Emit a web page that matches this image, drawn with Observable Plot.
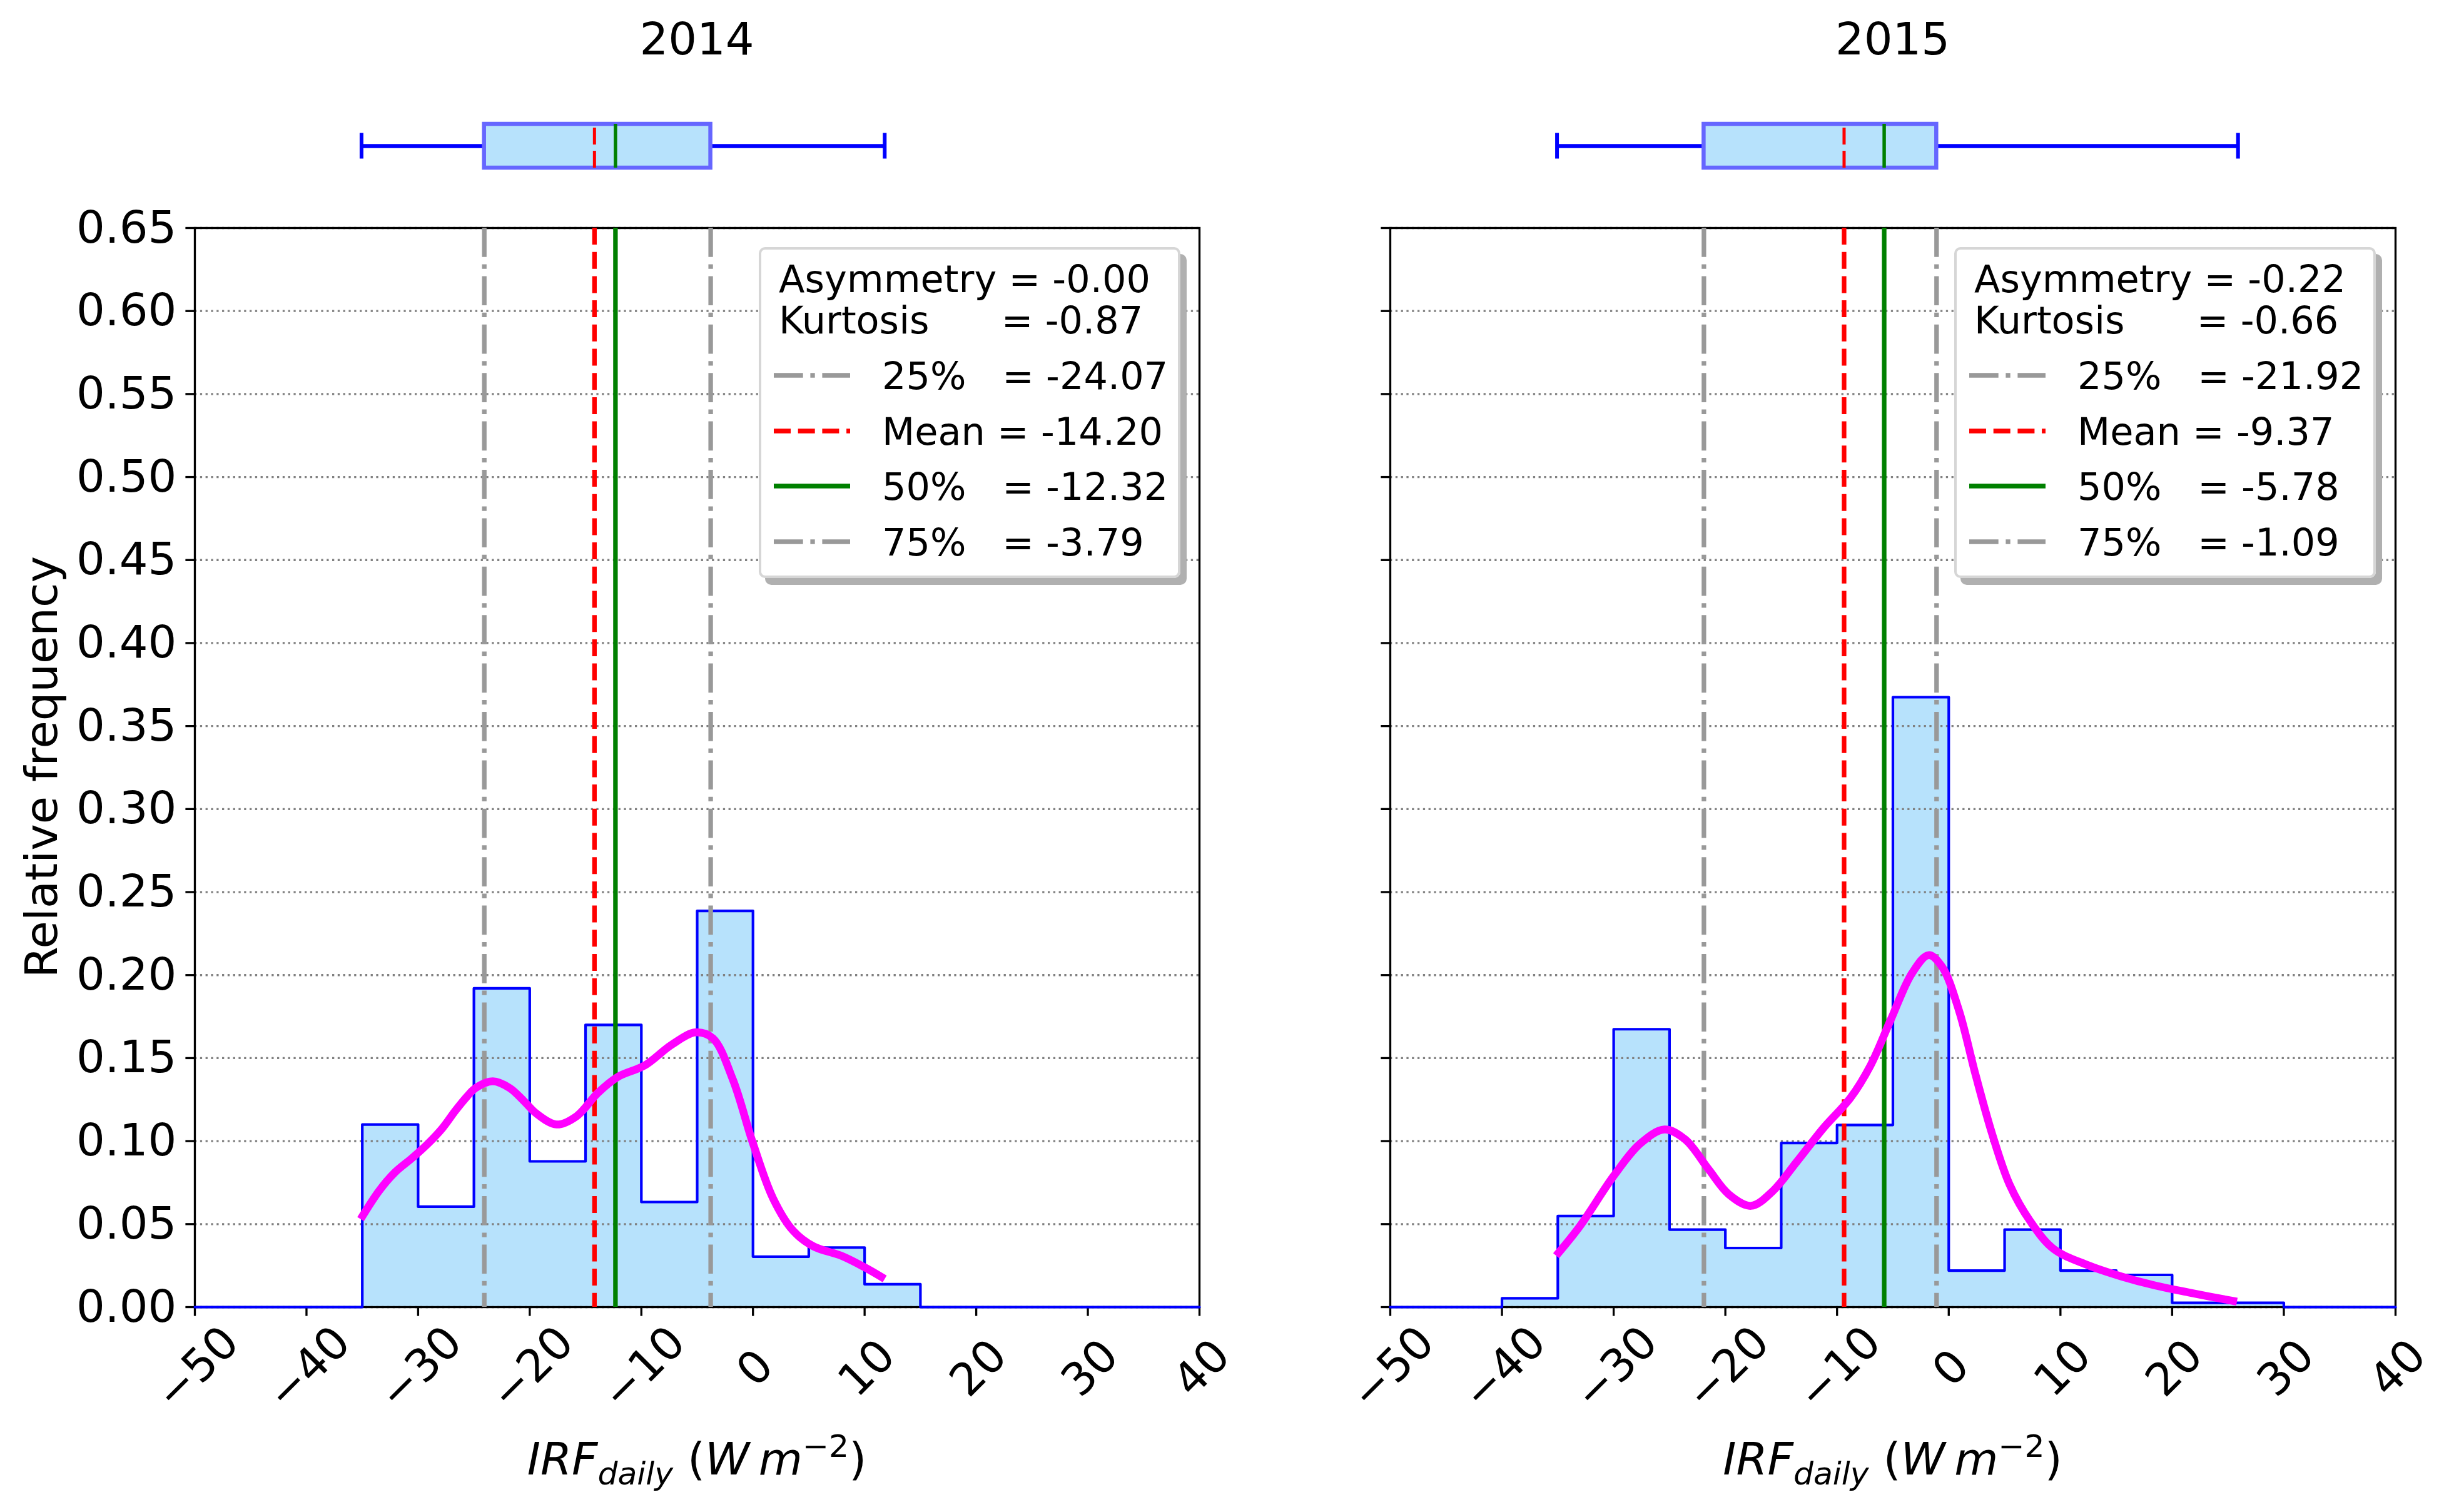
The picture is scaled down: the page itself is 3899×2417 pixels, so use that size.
<!DOCTYPE html>
<html>
<head>
<meta charset="utf-8">
<script src="https://cdn.jsdelivr.net/npm/d3@7"></script>
<script src="https://cdn.jsdelivr.net/npm/@observablehq/plot@0.6"></script>
<style>
  html, body { margin: 0; padding: 0; background: #ffffff; }
  #root { position: relative; width: 3899px; height: 2417px; background: #ffffff; overflow: hidden; font-family: "DejaVu Sans", sans-serif; color: #000; }
  .abs { position: absolute; }
  .abs svg { overflow: visible; }
  .txt { position: absolute; white-space: pre; line-height: 1; font-family: "DejaVu Sans", sans-serif; }
  .legend { position: absolute; width: 674px; height: 529px; background: #ffffff; border-radius: 10px;
            box-shadow: inset 0 0 0 4px #d6d6d6, 10px 11px 0 0 #b0b0b0; }
</style>
</head>
<body>
<div id="root"></div>
<script>
// ---------------- data ----------------
const years = ["2014", "2015"];
const xTicks = [-50, -40, -30, -20, -10, 0, 10, 20, 30, 40];
const yTicks = [0, 0.05, 0.10, 0.15, 0.20, 0.25, 0.30, 0.35, 0.40, 0.45, 0.50, 0.55, 0.60, 0.65];
const binStarts = [-50, -45, -40, -35, -30, -25, -20, -15, -10, -5, 0, 5, 10, 15, 20, 25, 30, 35];
const binEnd = 40;
const freq2014 = [0, 0, 0, 0.110, 0.0605, 0.192, 0.0878, 0.170, 0.0633, 0.2387, 0.0304, 0.0359, 0.0138, 0, 0, 0, 0, 0];
const freq2015 = [0, 0, 0.0053, 0.0549, 0.1674, 0.0467, 0.0356, 0.0989, 0.1097, 0.3674, 0.0220, 0.0467, 0.0220, 0.0194, 0.0026, 0.0026, 0, 0];

const kdeX2014 = [-35.15, -33.5, -32.1, -30.5, -29.1, -27.8, -26.7, -25.6, -24.85, -23.3, -21.8, -20.5, -19.4, -17.6, -15.8, -13.9, -12.1, -9.7, -7.3, -5.15, -3.6, -1.8, 0, 1.8, 3.6, 5.45, 7.9, 10, 11.8];
const kdeY2014 = [0.053, 0.070, 0.081, 0.090, 0.0986, 0.108, 0.118, 0.127, 0.132, 0.136, 0.132, 0.124, 0.1166, 0.110, 0.115, 0.129, 0.1387, 0.1456, 0.158, 0.1655, 0.162, 0.137, 0.0986, 0.0655, 0.046, 0.0365, 0.031, 0.024, 0.017];
const kdeX2015 = [-35.15, -33.0, -30.0, -27.6, -25.45, -23.6, -21.5, -19.7, -17.7, -15.8, -13.6, -11.2, -8.8, -7.0, -5.2, -3.3, -1.8, -0.6, 0.9, 2.4, 3.9, 5.45, 7.3, 9.4, 12.4, 15.45, 18.5, 21.5, 25.8];
const kdeY2015 = [0.031, 0.049, 0.079, 0.0986, 0.107, 0.101, 0.083, 0.068, 0.061, 0.0696, 0.0876, 0.108, 0.126, 0.1456, 0.173, 0.201, 0.212, 0.205, 0.179, 0.140, 0.104, 0.0738, 0.0517, 0.035, 0.0254, 0.0185, 0.013, 0.0088, 0.0033];

const q1Vals = [-24.07, -21.92];
const meanVals = [-14.20, -9.37];
const medianVals = [-12.32, -5.78];
const q3Vals = [-3.79, -1.09];
const whiskLo = [-35.07, -35.07];
const whiskHi = [11.8, 25.9];
const asymText = ["-0.00", "-0.22"];
const kurtText = ["-0.87", "-0.66"];

const freqs = [freq2014, freq2015];
const kdeXs = [kdeX2014, kdeX2015];
const kdeYs = [kdeY2014, kdeY2015];

// ---------------- layout ----------------
const panels = [
  { left: 0,    width: 1950, ml: 311, mr: 33 },
  { left: 1950, width: 1949, ml: 272, mr: 70 }
];
const FONT = "DejaVu Sans";
const TICKF = 72;
const root = document.getElementById("root");
const fmtX = d => d < 0 ? "\u2212" + Math.abs(d) : String(d);

function place(el, left, top) {
  const w = document.createElement("div");
  w.className = "abs";
  w.style.left = left + "px";
  w.style.top = top + "px";
  w.appendChild(el);
  root.appendChild(w);
}
function addText(html, left, top, size, extra) {
  const d = document.createElement("div");
  d.className = "txt";
  d.style.left = left + "px";
  d.style.top = top + "px";
  d.style.fontSize = size + "px";
  if (extra) Object.assign(d.style, extra);
  d.innerHTML = html;
  root.appendChild(d);
  return d;
}

panels.forEach((p, i) => {
  const steps = binStarts.map((x, j) => ({ x, y: freqs[i][j] }))
    .concat([{ x: binEnd, y: freqs[i][freqs[i].length - 1] }]);
  const kde = kdeXs[i].map((x, j) => ({ x, y: kdeYs[i][j] }));

  const hist = Plot.plot({
    width: p.width, height: 2417,
    marginLeft: p.ml, marginRight: p.mr, marginTop: 364, marginBottom: 328,
    x: { domain: [-50, 40], label: null },
    y: { domain: [0, 0.65], label: null },
    style: { fontFamily: FONT, fontSize: TICKF + "px", background: "transparent", color: "black" },
    marks: [
      Plot.areaY(steps, { x: "x", y: "y", curve: "step-after", fill: "#b7e2fc" }),
      Plot.ruleY(yTicks, { y: d => d, stroke: "#808080", strokeWidth: 3.3, strokeDasharray: "3.3,5.5" }),
      Plot.frame({ stroke: "black", strokeWidth: 3.33 }),
      Plot.axisY({ ticks: yTicks, tickSize: 14.6, tickPadding: 14.6, strokeWidth: 3.33, fontSize: TICKF, label: null,
                   tickFormat: i === 0 ? (d => d.toFixed(2)) : (() => "") }),
      Plot.axisX({ ticks: xTicks, tickSize: 14.6, strokeWidth: 3.33, label: null, tickFormat: () => "" }),
      Plot.text(xTicks, { x: d => d, text: fmtX, frameAnchor: "bottom", dy: 98, dx: 4, rotate: -45,
                          textAnchor: "middle", lineAnchor: "middle", fontSize: TICKF, fill: "black" }),
      Plot.line(steps, { x: "x", y: "y", curve: "step-after", stroke: "#0000ff", strokeWidth: 4.2 }),
      Plot.ruleX([q1Vals[i]], { x: d => d, stroke: "#999999", strokeWidth: 7.3, strokeDasharray: "46.7,11.7,7.3,11.7" }),
      Plot.ruleX([q3Vals[i]], { x: d => d, stroke: "#999999", strokeWidth: 7.3, strokeDasharray: "46.7,11.7,7.3,11.7" }),
      Plot.ruleX([meanVals[i]], { x: d => d, stroke: "#ff0000", strokeWidth: 7.3, strokeDasharray: "27,11.7" }),
      Plot.ruleX([medianVals[i]], { x: d => d, stroke: "#008000", strokeWidth: 7.3 }),
      Plot.line(kde, { x: "x", y: "y", stroke: "#ff00ff", strokeWidth: 12.5, curve: "catmull-rom", strokeLinecap: "butt" })
    ]
  });
  place(hist, p.left, 0);

  const stat = [{ year: years[i], lo: whiskLo[i], q1: q1Vals[i], median: medianVals[i], mean: meanVals[i], q3: q3Vals[i], hi: whiskHi[i] }];
  const box = Plot.plot({
    width: p.width, height: 140,
    marginLeft: p.ml, marginRight: p.mr, marginTop: 0, marginBottom: 0,
    x: { domain: [-50, 40], axis: null },
    y: { domain: [years[i]], axis: null, padding: 0 },
    style: { background: "transparent" },
    marks: [
      Plot.ruleY(stat, { y: "year", x1: "lo", x2: "q1", stroke: "#0000ff", strokeWidth: 6.5 }),
      Plot.ruleY(stat, { y: "year", x1: "q3", x2: "hi", stroke: "#0000ff", strokeWidth: 6.5 }),
      Plot.barX(stat, { y: "year", x1: "q1", x2: "q3", fill: "#b7e2fc", stroke: "#6666ff", strokeWidth: 6.5, insetTop: 35, insetBottom: 35 }),
      Plot.tickX(stat, { x: "lo", y: "year", stroke: "#0000ff", strokeWidth: 6, insetTop: 49.5, insetBottom: 49.5 }),
      Plot.tickX(stat, { x: "hi", y: "year", stroke: "#0000ff", strokeWidth: 6, insetTop: 49.5, insetBottom: 49.5 }),
      Plot.tickX(stat, { x: "median", y: "year", stroke: "#008000", strokeWidth: 5.5, insetTop: 35, insetBottom: 35 }),
      Plot.tickX(stat, { x: "mean", y: "year", stroke: "#ff0000", strokeWidth: 5, strokeDasharray: "27,10", strokeDashoffset: 31, insetTop: 35, insetBottom: 35 })
    ]
  });
  place(box, p.left, 163);

  // title
  const axL = p.left + p.ml;
  const axR = p.left + p.width - p.mr;
  const cx = (axL + axR) / 2;
  addText(years[i], cx - 300, 87 - 0.846 * 72, 72, { width: "600px", textAlign: "center" });

  // x label
  addText('<i>IRF</i><span style="font-size:0.7em;position:relative;top:0.32em"><i>daily</i></span> (<i>W</i>\u2009<i>m</i><span style="font-size:0.7em;position:relative;top:-0.55em">\u22122</span>)',
          cx - 600, 2357 - 0.846 * 72, 72, { width: "1200px", textAlign: "center" });

  // legend
  const lg = document.createElement("div");
  lg.className = "legend";
  const lgLeft = axL + 902, lgTop = 395;
  lg.style.left = lgLeft + "px";
  lg.style.top = lgTop + "px";
  root.appendChild(lg);
  const LF = 60.5, base = 0.846 * LF;
  function lgText(s, x, baseline) {
    const d = document.createElement("div");
    d.className = "txt";
    d.style.left = x + "px";
    d.style.top = (baseline - base) + "px";
    d.style.fontSize = LF + "px";
    d.textContent = s;
    lg.appendChild(d);
  }
  function lgHandle(color, dash, cy) {
    const ns = "http://www.w3.org/2000/svg";
    const s = document.createElementNS(ns, "svg");
    s.setAttribute("width", 122);
    s.setAttribute("height", 20);
    s.style.position = "absolute";
    s.style.left = "24px";
    s.style.top = (cy - 10) + "px";
    const l = document.createElementNS(ns, "line");
    l.setAttribute("x1", 0); l.setAttribute("x2", 122);
    l.setAttribute("y1", 10); l.setAttribute("y2", 10);
    l.setAttribute("stroke", color);
    l.setAttribute("stroke-width", 7.3);
    if (dash) l.setAttribute("stroke-dasharray", dash);
    s.appendChild(l);
    lg.appendChild(s);
  }
  lgText("Asymmetry = " + asymText[i], 32, 72);
  lgText("Kurtosis      = " + kurtText[i], 32, 138);
  const rows = [
    ["25%   = " + q1Vals[i].toFixed(2), "#999999", "46.7,11.7,7.3,11.7"],
    ["Mean = " + meanVals[i].toFixed(2), "#ff0000", "27,11.7"],
    ["50%   = " + medianVals[i].toFixed(2), "#008000", null],
    ["75%   = " + q3Vals[i].toFixed(2), "#999999", "46.7,11.7,7.3,11.7"]
  ];
  rows.forEach((r, k) => {
    const cy = 205 + k * 88.7;
    lgHandle(r[1], r[2], cy);
    lgText(r[0], 197, cy + 22);
  });
});

// y label
addText("Relative frequency", 66, 1226, 72, { transform: "translate(-50%,-50%) rotate(-90deg)" });
</script>
</body>
</html>
